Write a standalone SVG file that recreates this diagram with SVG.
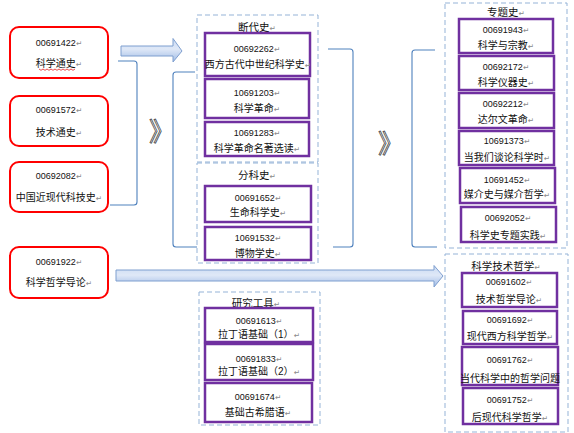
<svg xmlns="http://www.w3.org/2000/svg" width="574" height="433" viewBox="0 0 574 433">
<defs>
<linearGradient id="ag" x1="0" y1="0" x2="0" y2="1">
<stop offset="0" stop-color="#c9daf3"/>
<stop offset="0.45" stop-color="#dfe8f7"/>
<stop offset="1" stop-color="#9fbbe6"/>
</linearGradient>
<style>
text{font-family:"Liberation Sans","Noto Sans CJK SC",sans-serif;fill:#111;text-anchor:middle}
.n{font-size:9px}
.c{font-size:10px}
.t{font-size:10.5px}
.m{fill:#8a8a8a;font-size:7.5px;font-family:"DejaVu Sans",sans-serif}
.red{fill:#fff;stroke:#ff0000;stroke-width:2}
.pur{fill:#fff;stroke:#7030a0;stroke-width:2.5}
.dash{fill:none;stroke:#95b3d7;stroke-width:1;stroke-dasharray:5 3}
.br{fill:none;stroke:#4f81bd;stroke-width:1.1}
.arr{fill:url(#ag);stroke:#7f9fcf;stroke-width:1}
.chev{font-family:"Noto Sans CJK SC",sans-serif;fill:#fff;stroke:#333;stroke-width:0.7;font-size:26px}
</style>
</defs>
<rect width="574" height="433" fill="#fff"/>

<g id="connectors">
<path class="arr" d="M121,46 H173 V38.5 L182,51 L173,62 V56 H121 Z"/>
<path class="arr" d="M116,270 H434 V265.5 L443,276 L434,287 V281 H116 Z"/>
<path class="br" d="M118,61 H134 Q137,61 137,64 V202 Q137,205 134,205 H110"/>
<path class="br" d="M195,72 H176 Q173,72 173,75 V244 Q173,247 176,247 H197"/>
<path class="br" d="M328,49 H350 Q353,49 353,52 V244 Q353,247 350,247 H333"/>
<path class="br" d="M435,50 H415 Q412,50 412,53 V244 Q412,247 415,247 H437"/>
<text class="chev" x="162" y="141">》</text>
<text class="chev" x="391" y="153">》</text>
</g>

<g id="n00691422">
<rect class="red" x="10" y="27" width="98" height="51" rx="9"/>
<text class="n" x="59" y="46">00691422<tspan class="m">↵</tspan></text>
<text class="c" x="59" y="66.5">科学通史<tspan class="m">↵</tspan></text>
<path d="M39,69 l2,1.3 l2,-1.3 l2,1.3 l2,-1.3 l2,1.3 l2,-1.3 l2,1.3 l2,-1.3 l2,1.3 l2,-1.3 l2,1.3 l2,-1.3 l2,1.3 l2,-1.3 l2,1.3 l2,-1.3 l2,1.3 l2,-1.3" fill="none" stroke="#e00000" stroke-width="0.7"/>
</g>
<g id="n00691572">
<rect class="red" x="10" y="96" width="98" height="50" rx="9"/>
<text class="n" x="59" y="113">00691572<tspan class="m">↵</tspan></text>
<text class="c" x="59" y="135.5">技术通史<tspan class="m">↵</tspan></text>
</g>
<g id="n00692082">
<rect class="red" x="10" y="162" width="98" height="50" rx="9"/>
<text class="n" x="59" y="179">00692082<tspan class="m">↵</tspan></text>
<text class="c" x="59" y="200.5">中国近现代科技史<tspan class="m">↵</tspan></text>
</g>
<g id="n00691922">
<rect class="red" x="10" y="247" width="98" height="51" rx="9"/>
<text class="n" x="59" y="265">00691922<tspan class="m">↵</tspan></text>
<text class="c" x="59" y="285.5">科学哲学导论<tspan class="m">↵</tspan></text>
</g>

<g id="grp-duandai">
<rect class="dash" x="197" y="15" width="121" height="147"/>
<text class="t" x="257" y="30.5">断代史<tspan class="m">↵</tspan></text>
</g>
<g id="n00692262">
<rect class="pur" x="205" y="33" width="105" height="43"/>
<text class="n" x="257" y="52">00692262<tspan class="m">↵</tspan></text>
<text class="c" x="258" y="67.5">西方古代中世纪科学史<tspan class="m">↵</tspan></text>
</g>
<g id="n10691203">
<rect class="pur" x="205" y="79" width="104" height="39"/>
<text class="n" x="257" y="96">10691203<tspan class="m">↵</tspan></text>
<text class="c" x="257" y="111.5">科学革命<tspan class="m">↵</tspan></text>
</g>
<g id="n10691283">
<rect class="pur" x="205" y="122" width="104" height="34"/>
<text class="n" x="257" y="136">10691283<tspan class="m">↵</tspan></text>
<text class="c" x="257" y="151.5">科学革命名著选读<tspan class="m">↵</tspan></text>
</g>

<g id="grp-fenke">
<rect class="dash" x="197" y="163" width="121" height="100"/>
<text class="t" x="257" y="178.5">分科史<tspan class="m">↵</tspan></text>
</g>
<g id="n00691652">
<rect class="pur" x="205" y="186" width="106" height="36"/>
<text class="n" x="258" y="201">00691652<tspan class="m">↵</tspan></text>
<text class="c" x="258" y="215.5">生命科学史<tspan class="m">↵</tspan></text>
</g>
<g id="n10691532">
<rect class="pur" x="205" y="227" width="106" height="33"/>
<text class="n" x="258" y="241">10691532<tspan class="m">↵</tspan></text>
<text class="c" x="258" y="256.5">博物学史<tspan class="m">↵</tspan></text>
</g>

<g id="grp-tools">
<rect class="dash" x="199" y="292" width="121" height="133"/>
<text class="t" x="256" y="306.5">研究工具<tspan class="m">↵</tspan></text>
</g>
<g id="n00691613">
<rect class="pur" x="205" y="308" width="108" height="34"/>
<text class="n" x="259" y="324">00691613<tspan class="m">↵</tspan></text>
<text class="c" x="259" y="337.5">拉丁语基础（1）<tspan class="m">↵</tspan></text>
</g>
<g id="n00691833">
<rect class="pur" x="205" y="344" width="108" height="36"/>
<text class="n" x="259" y="362">00691833<tspan class="m">↵</tspan></text>
<text class="c" x="259" y="374.5">拉丁语基础（2）<tspan class="m">↵</tspan></text>
</g>
<g id="n00691674">
<rect class="pur" x="205" y="383" width="107" height="39"/>
<text class="n" x="258" y="400">00691674<tspan class="m">↵</tspan></text>
<text class="c" x="258" y="415.5">基础古希腊语<tspan class="m">↵</tspan></text>
</g>

<g id="grp-zhuanti">
<rect class="dash" x="445" y="3" width="122" height="245"/>
<text class="t" x="506" y="15.5">专题史<tspan class="m">↵</tspan></text>
</g>
<g id="n00691943">
<rect class="pur" x="459" y="19" width="94" height="34"/>
<text class="n" x="506" y="33">00691943<tspan class="m">↵</tspan></text>
<text class="c" x="506" y="48.5">科学与宗教<tspan class="m">↵</tspan></text>
</g>
<g id="n00692172">
<rect class="pur" x="459" y="56" width="95" height="34"/>
<text class="n" x="506" y="70">00692172<tspan class="m">↵</tspan></text>
<text class="c" x="506" y="85.5">科学仪器史<tspan class="m">↵</tspan></text>
</g>
<g id="n00692212">
<rect class="pur" x="459" y="93" width="95" height="35"/>
<text class="n" x="506" y="107">00692212<tspan class="m">↵</tspan></text>
<text class="c" x="506" y="122.5">达尔文革命<tspan class="m">↵</tspan></text>
</g>
<g id="n10691373">
<rect class="pur" x="459" y="131" width="95" height="34"/>
<text class="n" x="507" y="144">10691373<tspan class="m">↵</tspan></text>
<text class="c" x="507" y="160.5">当我们谈论科学时<tspan class="m">↵</tspan></text>
</g>
<g id="n10691452">
<rect class="pur" x="460" y="168" width="95" height="35"/>
<text class="n" x="507" y="183">10691452<tspan class="m">↵</tspan></text>
<text class="c" x="507" y="197.5">媒介史与媒介哲学<tspan class="m">↵</tspan></text>
</g>
<g id="n00692052">
<rect class="pur" x="461" y="207" width="95" height="35"/>
<text class="n" x="508" y="221">00692052<tspan class="m">↵</tspan></text>
<text class="c" x="508" y="238.5">科学史专题实践<tspan class="m">↵</tspan></text>
</g>

<g id="grp-philo">
<rect class="dash" x="445" y="254" width="123" height="178"/>
<text class="t" x="506" y="269.5">科学技术哲学<tspan class="m">↵</tspan></text>
</g>
<g id="n00691602">
<rect class="pur" x="462" y="273" width="95" height="34"/>
<text class="n" x="509" y="285">00691602<tspan class="m">↵</tspan></text>
<text class="c" x="509" y="302.5">技术哲学导论<tspan class="m">↵</tspan></text>
</g>
<g id="n00691692">
<rect class="pur" x="463" y="311" width="94" height="33"/>
<text class="n" x="510" y="323">00691692<tspan class="m">↵</tspan></text>
<text class="c" x="510" y="339.5">现代西方科学哲学<tspan class="m">↵</tspan></text>
</g>
<g id="n00691762">
<rect class="pur" x="462" y="347" width="96" height="38"/>
<text class="n" x="510" y="363">00691762<tspan class="m">↵</tspan></text>
<text class="c" x="510" y="381.5">当代科学中的哲学问题</text>
</g>
<g id="n00691752">
<rect class="pur" x="463" y="388" width="95" height="36"/>
<text class="n" x="510" y="403">00691752<tspan class="m">↵</tspan></text>
<text class="c" x="510" y="420.5">后现代科学哲学<tspan class="m">↵</tspan></text>
</g>
</svg>
